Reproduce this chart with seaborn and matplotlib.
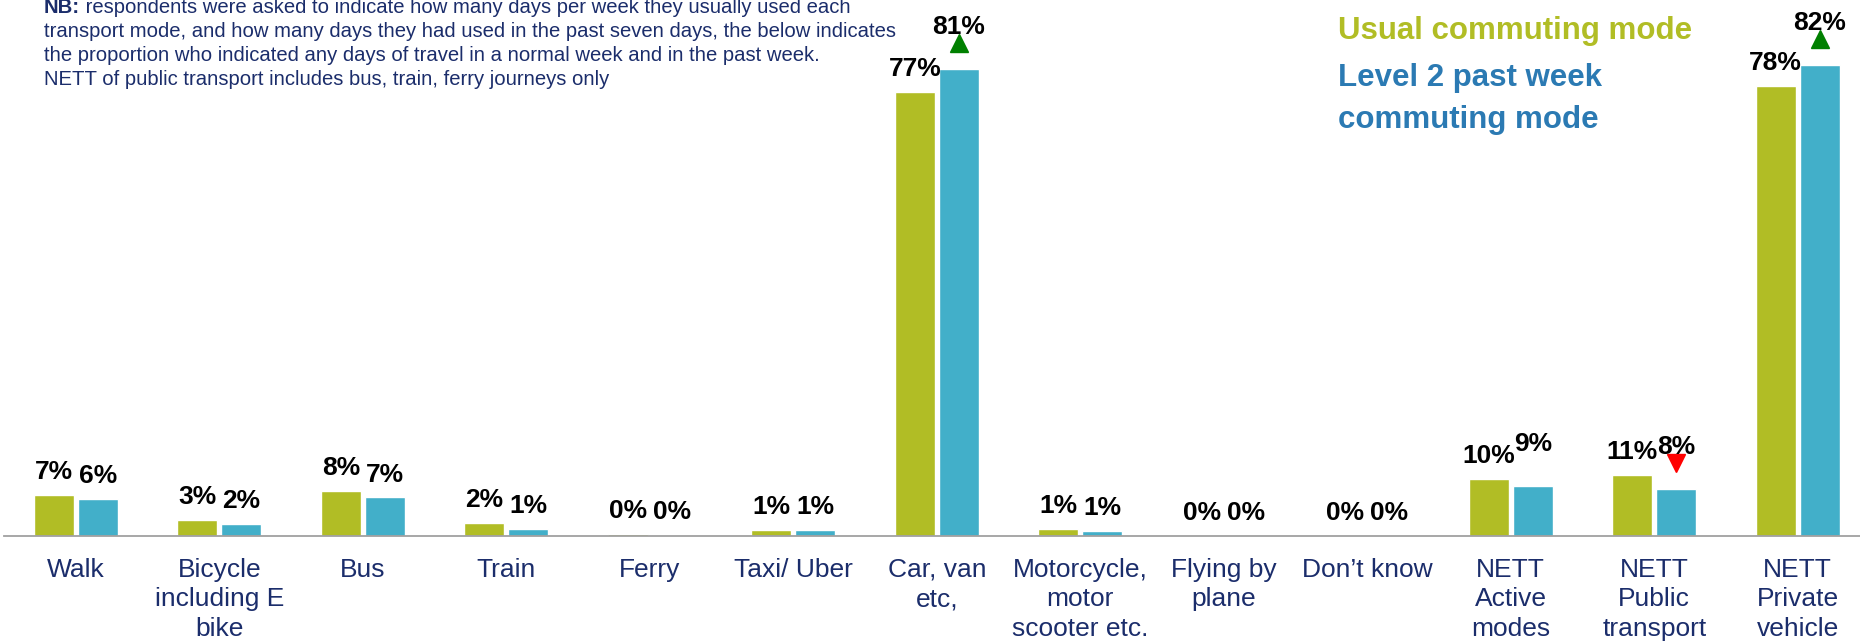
import matplotlib
matplotlib.use("Agg")
import matplotlib.pyplot as plt
import matplotlib.transforms as mtransforms
import numpy as np
import pandas as pd
import seaborn as sns

categories = [
    "Walk", "Bicycle\nincluding E\nbike", "Bus", "Train", "Ferry", "Taxi/ Uber",
    "Car, van\netc,", "Motorcycle,\nmotor\nscooter etc.", "Flying by\nplane",
    "Don\u2019t know", "NETT\nActive\nmodes", "NETT\nPublic\ntransport",
    "NETT\nPrivate\nvehicle",
]
usual_mode = [7.2, 2.8, 7.9, 2.2, 0.3, 1.0, 77.2, 1.2, 0.0, 0.0, 9.9, 10.6, 78.3]
past_week = [6.4, 2.1, 6.7, 1.3, 0.1, 1.0, 81.2, 0.8, 0.0, 0.0, 8.7, 8.2, 81.9]
usual_labels = ["7%", "3%", "8%", "2%", "0%", "1%", "77%", "1%", "0%", "0%", "10%", "11%", "78%"]
past_labels = ["6%", "2%", "7%", "1%", "0%", "1%", "81%", "1%", "0%", "0%", "9%", "8%", "82%"]
past_change = ["", "", "", "", "", "", "up", "", "", "", "", "down", "up"]
series_names = ["Usual commuting mode", "Level 2 past week commuting mode"]
legend_lines = [["Usual commuting mode"], ["Level 2 past week", "commuting mode"]]
note_first = " respondents were asked to indicate how many days per week they usually used each"
note_lines = [
    "transport mode, and how many days they had used in the past seven days, the below indicates",
    "the proportion who indicated any days of travel in a normal week and in the past week.",
    "NETT of public transport includes bus, train, ferry journeys only",
]

GREEN = "#b1bd25"
BLUE = "#42afc9"
NAVY = "#1b2d6b"
LEGEND_BLUE = "#2b7ab3"

sns.set_style("white")
plt.rcParams["font.family"] = ["Liberation Sans", "DejaVu Sans"]

df = pd.DataFrame({
    "category": categories * 2,
    "value": usual_mode + past_week,
    "series": [series_names[0]] * len(categories) + [series_names[1]] * len(categories),
})

fig = plt.figure(figsize=(18.6, 6.42), dpi=100)
W, H = 1860, 642
ax = fig.add_axes([4 / W, 106 / H, 13 * 143.5 / W, 536 / H])

sns.barplot(
    data=df, x="category", y="value", hue="series",
    order=categories, hue_order=series_names,
    palette=[GREEN, BLUE], saturation=1, width=0.612, gap=0.085,
    legend=False, ax=ax,
)

ax.set_xlim(-0.5, len(categories) - 0.5)
ax.set_ylim(0, 536 / 5.75)
ax.set_xlabel("")
ax.set_ylabel("")
ax.set_yticks([])
for side in ["left", "top", "right"]:
    ax.spines[side].set_visible(False)
ax.spines["bottom"].set_color("#a0a0a0")
ax.spines["bottom"].set_linewidth(1.3)

# labels in the middle, tick marks on the category boundaries
ax.set_xticks(np.arange(len(categories)))
ax.set_xticklabels(categories, fontsize=19, color=NAVY, linespacing=1.3)
ax.set_xticks(np.arange(-0.5, len(categories)), minor=True)
ax.tick_params(axis="x", which="major", length=0, pad=15.5)
ax.tick_params(axis="x", which="minor", length=6, width=1.2, color="#a0a0a0")

# value labels
for i, bar in enumerate(ax.containers[0]):
    cx = bar.get_x() + bar.get_width() / 2
    ax.annotate(usual_labels[i], (cx, bar.get_height()), xytext=(0, 11.5),
                textcoords="offset points", ha="center", va="baseline",
                fontsize=19, fontweight="bold", color="black")

for i, bar in enumerate(ax.containers[1]):
    cx = bar.get_x() + bar.get_width() / 2
    lifted = past_change[i] != "" or i == 10
    ax.annotate(past_labels[i], (cx, bar.get_height()), xytext=(0, 25 if lifted else 11.5),
                textcoords="offset points", ha="center", va="baseline",
                fontsize=19, fontweight="bold", color="black")
    if past_change[i]:
        marker = "^" if past_change[i] == "up" else "v"
        col = "#008000" if past_change[i] == "up" else "#ff0000"
        tr = mtransforms.offset_copy(ax.transData, fig=fig, x=0, y=26, units="dots")
        ax.plot([cx], [bar.get_height()], marker=marker, color=col, markersize=13,
                transform=tr, clip_on=False)

# legend as coloured text, one line at a time
legend_baselines = [[39], [86, 128]]
for lines, ys, col in zip(legend_lines, legend_baselines, [GREEN, LEGEND_BLUE]):
    for line, y in zip(lines, ys):
        fig.text(1338 / W, 1 - y / H, line, color=col, fontsize=22.5,
                 fontweight="bold", va="baseline", ha="left")

# note at top left
nb = fig.text(44 / W, 1 - 13 / H, "NB:", color=NAVY, fontsize=14.6,
              fontweight="bold", va="baseline", ha="left")
ax.annotate(note_first, xy=(1, 0), xycoords=nb, ha="left", va="bottom",
            color=NAVY, fontsize=14.6, annotation_clip=False)
for k, line in enumerate(note_lines):
    fig.text(44 / W, 1 - (37 + 24 * k) / H, line, color=NAVY, fontsize=14.6,
             va="baseline", ha="left")

fig.savefig("out.png", dpi=100)
